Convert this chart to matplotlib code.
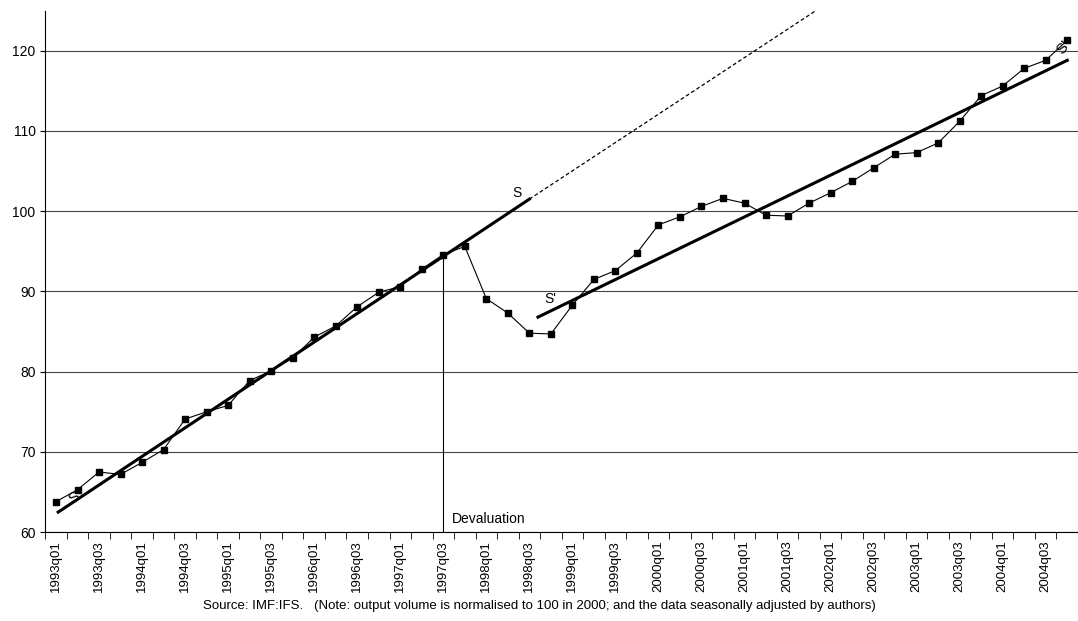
import numpy as np
import matplotlib.pyplot as plt

years = range(1993, 2005)
quarters = [f"{y}q0{q}" for y in years for q in range(1, 5)]
output = [63.8, 65.3, 67.5, 67.2, 68.7, 70.3, 74.1, 75.0,
          75.8, 78.9, 80.1, 81.7, 84.3, 85.7, 88.1, 89.9,
          90.6, 92.8, 94.6, 95.6, 89.1, 87.3, 84.8, 84.7,
          88.3, 91.5, 92.6, 94.8, 98.3, 99.3, 100.6, 101.6,
          101.0, 99.5, 99.4, 101.0, 102.3, 103.7, 105.4, 107.1,
          107.3, 108.5, 111.2, 114.4, 115.6, 117.8, 118.8, 121.3]

# trend lines (start index, start value, end index, end value)
trend_s = (0.1, 62.5, 22.0, 101.5)
trend_s_dash_end = (36.0, 126.2)
trend_s2 = (22.4, 86.8, 47.0, 118.8)
deval_idx = 18

plt.rcParams['font.family'] = ['Liberation Sans', 'DejaVu Sans']
fig = plt.figure(figsize=(10.78, 6.21), dpi=100)
ax = fig.add_axes([0.042, 0.143, 0.958, 0.84])

x = np.arange(len(quarters))
ax.plot(x, output, color='black', lw=0.8, marker='s', ms=4.5)
ax.plot([trend_s[0], trend_s[2]], [trend_s[1], trend_s[3]], color='black', lw=2.2)
ax.plot([trend_s[2], trend_s_dash_end[0]], [trend_s[3], trend_s_dash_end[1]],
        color='black', lw=0.9, ls=(0, (3, 2)))
ax.plot([trend_s2[0], trend_s2[2]], [trend_s2[1], trend_s2[3]], color='black', lw=2.2)
ax.plot([deval_idx, deval_idx], [60, output[deval_idx]], color='black', lw=0.8)

ax.text(deval_idx + 0.4, 61.2, 'Devaluation', fontsize=10)
ax.text(21.2, 101.8, 'S', fontsize=10)
ax.text(22.7, 88.6, "S'", fontsize=10)
ax.text(0.45, 63.6, 'S', fontsize=11, rotation=35)
ax.text(46.4, 119.6, "S'", fontsize=11, rotation=50)

ax.set_xlim(-0.5, len(quarters) - 0.5)
ax.set_ylim(60, 125)
ax.set_yticks(range(60, 121, 10))
ax.yaxis.grid(True, color='#444444', lw=0.8)
ax.set_axisbelow(True)
ax.set_xticks(x[::2])
ax.set_xticklabels(quarters[::2], rotation=90, fontsize=9.5)
ax.set_xticks(np.arange(-0.5, len(quarters), 1), minor=True)
ax.tick_params(axis='x', which='major', length=0, pad=6)
ax.tick_params(axis='x', which='minor', length=5)
ax.tick_params(axis='y', labelsize=10)
for s in ['top', 'right']:
    ax.spines[s].set_visible(False)

fig.text(0.5, 0.02, 'Source: IMF:IFS.   (Note: output volume is normalised to 100 in 2000; '
         'and the data seasonally adjusted by authors)', ha='center', fontsize=9.5)
fig.savefig('out.png')
